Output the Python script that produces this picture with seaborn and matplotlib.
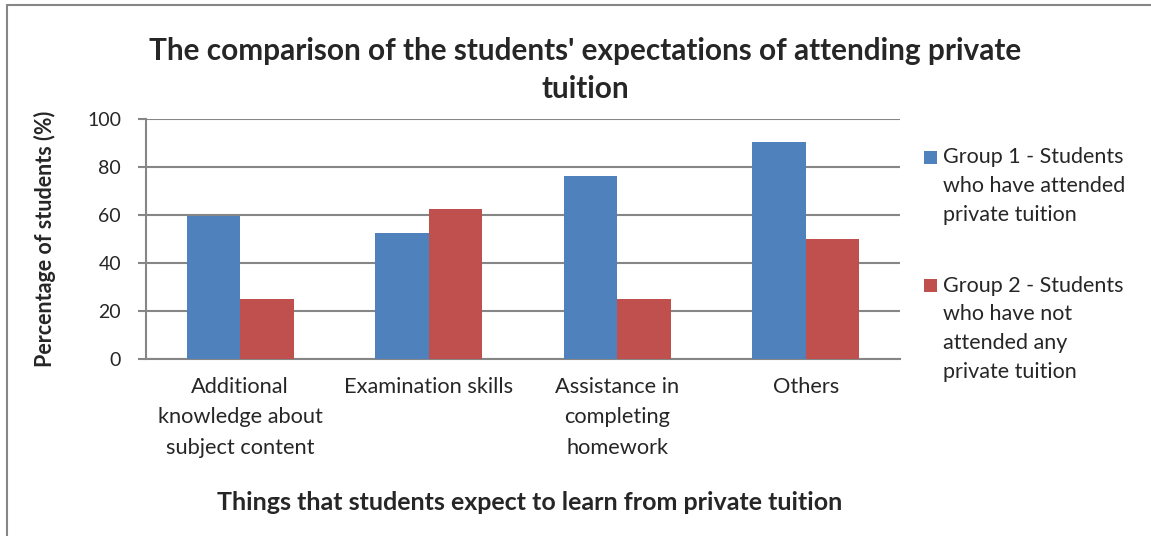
import matplotlib
matplotlib.use("Agg")
import matplotlib.pyplot as plt
from matplotlib.lines import Line2D
from matplotlib.patches import Patch, Rectangle
from matplotlib.legend_handler import HandlerPatch
import pandas as pd
import seaborn as sns

categories = [
    "Additional\nknowledge about\nsubject content",
    "Examination skills",
    "Assistance in\ncompleting\nhomework",
    "Others",
]
group1_label = "Group 1 - Students\nwho have attended\nprivate tuition"
group2_label = "Group 2 - Students\nwho have not\nattended any\nprivate tuition"
group1_values = [59.6, 52.3, 76.4, 90.5]
group2_values = [25.0, 62.5, 25.0, 50.0]
y_ticks = [0, 20, 40, 60, 80, 100]

df = pd.DataFrame({
    "category": categories * 2,
    "group": [group1_label] * len(categories) + [group2_label] * len(categories),
    "value": group1_values + group2_values,
})

sns.set_theme(style="white")
plt.rcParams["font.family"] = ["Lato", "DejaVu Sans"]

W, H = 1151, 536
fig = plt.figure(figsize=(W / 100, H / 100), dpi=100)
ax = fig.add_axes([146 / W, 1 - 359 / H, 754 / W, 240 / H])

palette = {group1_label: "#4F81BD", group2_label: "#C0504D"}
sns.barplot(data=df, x="category", y="value", hue="group", palette=palette,
            width=0.57, gap=0, saturation=1, edgecolor="none",
            ax=ax, zorder=3, legend=False)

grid_c = "#868686"
ax.set_ylim(0, 100)
ax.set_yticks(y_ticks)
ax.set_yticklabels([str(t) for t in y_ticks], fontsize=14)
ax.yaxis.grid(True, color=grid_c, linewidth=1.5, zorder=0)
ax.set_axisbelow(True)
ax.tick_params(axis="y", which="major", direction="out", length=6, width=1.5,
               color=grid_c, left=True, pad=12)
ax.tick_params(axis="x", length=0, pad=13, labelsize=15.7)
for side in ["top", "right"]:
    ax.spines[side].set_visible(False)
for side in ["left", "bottom"]:
    ax.spines[side].set_color(grid_c)
    ax.spines[side].set_linewidth(1.5)

for lbl in ax.get_xticklabels():
    lbl.set_linespacing(1.64)

ax.set_xlabel("Things that students expect to learn from private tuition",
              fontsize=18, fontweight="bold", va="center")
ax.xaxis.set_label_coords((530 - 146) / 754, (359 - 503) / 240)
ax.set_ylabel("Percentage of students (%)", fontsize=15.5, fontweight="bold",
              va="center")
ax.yaxis.set_label_coords((45 - 146) / 754, 0.5)

fig.suptitle("The comparison of the students' expectations of attending private\ntuition",
             x=585 / W, y=1 - 37 / H, fontsize=21.4, fontweight="bold",
             linespacing=1.44, va="top")


def top_square(legend, orig_handle, xdescent, ydescent, width, height, fontsize):
    # square swatch sitting next to the first line of a wrapped label
    side = width
    return Rectangle((-xdescent, -ydescent + height - side - 0.18 * fontsize),
                     side, side)


handles = [Patch(facecolor=palette[g], edgecolor="none", label=g)
           for g in [group1_label, group2_label]]
leg = ax.legend(handles=handles, loc="upper left",
                bbox_to_anchor=(924 / W, 1 - 147 / H),
                bbox_transform=fig.transFigure, frameon=False, fontsize=15.5,
                handlelength=0.6, handleheight=1.0, handletextpad=0.28,
                labelspacing=2.37, borderaxespad=0, borderpad=0,
                handler_map={Patch: HandlerPatch(patch_func=top_square)})
for t in leg.get_texts():
    t.set_linespacing(1.55)
for column in leg._legend_handle_box.get_children():
    for item in column.get_children():
        item.align = "top"

# outer frame (top and left edges)
fig.add_artist(Line2D([7 / W, 1], [1 - 5 / H, 1 - 5 / H],
                      transform=fig.transFigure, color=grid_c, linewidth=1.5))
fig.add_artist(Line2D([7 / W, 7 / W], [0, 1 - 5 / H],
                      transform=fig.transFigure, color=grid_c, linewidth=1.5))

fig.savefig("out.png", dpi=100, facecolor="white")
